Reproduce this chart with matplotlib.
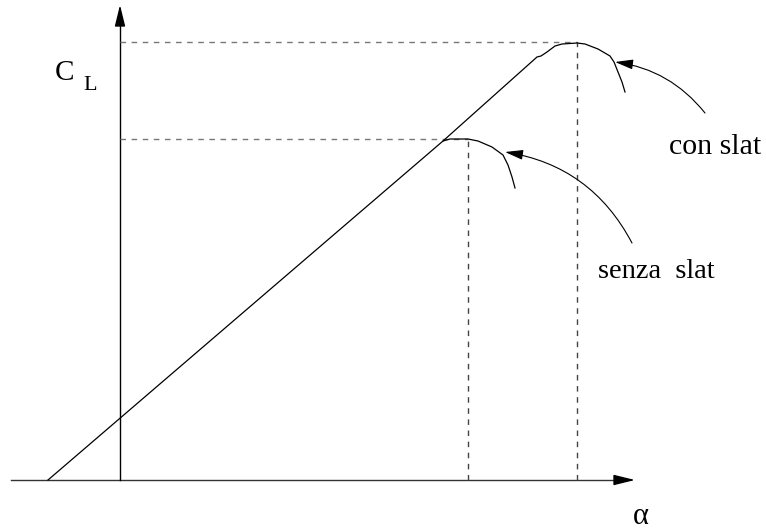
import numpy as np
import matplotlib.pyplot as plt

# schematic C_L - alpha curves (units: arbitrary, origin at the axes crossing)
alpha_senza = [-72, 323, 330, 348, 358, 372, 383, 388, 392, 395]
cl_senza = [0, 339, 341, 341, 339, 333, 325, 315, 303, 292]

alpha_con = [323, 417, 421, 427, 435, 442, 457, 465, 478, 490, 494, 498, 502, 505]
cl_con = [339, 423, 424, 428, 434, 436, 437, 436, 431, 424, 418, 408, 398, 388]

# stall points (alpha at CL max, CL max)
alpha_max = [348, 457]
cl_max = [341, 438]

labels = ['senza  slat', 'con slat']

serif = ['Liberation Serif', 'DejaVu Serif']


def draw_arrow(ax, start, tip, rad=0.0, hl=1.1, hw=0.3, lw=0.8):
    ax.annotate('', xy=tip, xytext=start,
                arrowprops=dict(arrowstyle=f'-|>,head_length={hl},head_width={hw}',
                                connectionstyle=f'arc3,rad={rad}',
                                color='black', lw=lw, shrinkA=0, shrinkB=0))


if __name__ == '__main__':
    fig = plt.figure(figsize=(7.66, 5.31), dpi=100)
    ax = fig.add_axes([0, 0, 1, 1])
    ax.set_xlim(-120, 646)
    ax.set_ylim(-51, 480)
    ax.axis('off')

    # axes with arrows
    ax.plot([-109, 500], [0, 0], color='#333333', lw=1.0)
    draw_arrow(ax, (495, 0), (515, 0), hl=1.3, hw=0.32, lw=1.0)
    ax.plot([0, 0], [0, 460], color='black', lw=1.0)
    draw_arrow(ax, (0, 455), (0, 475), hl=1.3, hw=0.32, lw=1.0)

    # dashed guide lines for CL max
    for a, c in zip(alpha_max, cl_max):
        ax.plot([0, a], [c, c], color='#777777', lw=1.0, dashes=(4, 4))
        ax.plot([a, a], [0, c], color='#444444', lw=1.0, dashes=(4, 4))

    # the curves
    ax.plot(alpha_senza, cl_senza, color='black', lw=0.9)
    ax.plot(alpha_con, cl_con, color='black', lw=0.9)

    # label arrows
    draw_arrow(ax, (512, 237), (385, 328), rad=0.25)
    draw_arrow(ax, (585, 367), (495, 418), rad=0.2)

    ax.text(549, 326, labels[1], fontsize=21.5, family=serif, va='baseline')
    ax.text(478, 202, labels[0], fontsize=20.5, family=serif, va='baseline')

    ax.text(-65, 400, 'C', fontsize=21, family=serif, va='baseline')
    ax.text(-37, 390, 'L', fontsize=16, family=serif, va='baseline')
    ax.text(513, -44, 'α', fontsize=22, family=serif, va='baseline')

    plt.savefig('out.png', dpi=100)
